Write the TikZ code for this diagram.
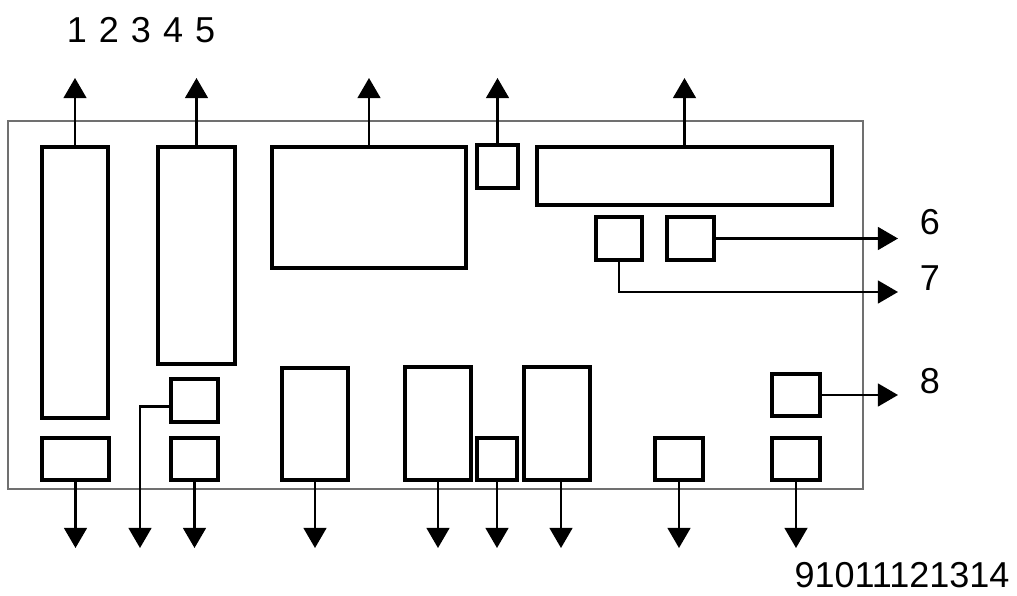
\documentclass[tikz,border=0pt]{standalone}
\usepackage{fontspec}
\setmainfont{Liberation Sans}
\usetikzlibrary{arrows.meta}
\definecolor{frame}{HTML}{707070}

\begin{document}
\begin{tikzpicture}[x=0.02cm,y=-0.02cm,
    blk/.style={draw,line width=1.8pt,inner sep=0pt},
    lead/.style={line width=1.4pt,-{Triangle[width=13pt,length=11.5pt]}},
    lbl/.style={font=\fontsize{20.5}{24}\selectfont}]
  \useasboundingbox (0,0) rectangle (1017,595);
  \draw[frame,line width=1.2pt] (8,121) rectangle (863,489);
  % blocks: name / centre x / centre y / width / height
  \foreach \name/\x/\y/\w/\h in {A/75/282.5/66/271, B/75.5/459/67/42, C/196.5/255.5/77/217,
      D/194.5/400.5/47/43, E/194.5/459/47/42, F/315/424/66/112, G/369/207.5/194/121,
      H/497.5/166.5/41/43, I/684.5/176/295/58, J/619/238.5/46/43, K/690.5/238.5/47/43,
      L/438/423.5/66/113, M/497/459/40/42, N/557/423.5/66/113, O/679/459/48/42,
      P/796/395/48/42, Q/796/459/48/42} {
    \node[blk,minimum width={\w*0.02cm},minimum height={\h*0.02cm}] (\name) at (\x,\y) {};
  }
  % free ends
  \foreach \name/\x/\y in {uA/75/78, uC/196.5/78, uG/369/78, uH/497.5/78, uI/684.5/78,
      dB/75.5/548, dD/140/548, dE/194.5/548, dF/315/548, dL/438/548, dM/497/548,
      dN/561/548, dO/679/548, dQ/796/548, rK/898/238.5, rJ/898/292, rP/898/395} {
    \coordinate (\name) at (\x,\y);
  }
  \foreach \a/\b in {A/uA, C/uC, G/uG, H/uH, I/uI}
    \draw[lead] (\a.north) -- (\b);
  \foreach \a/\b in {B/dB, E/dE, F/dF, L/dL, M/dM, O/dO, Q/dQ}
    \draw[lead] (\a.south) -- (\b);
  \draw[lead] (N.south -| dN) -- (dN);
  \draw[lead] ([yshift=-0.12cm]D.west) -| (dD);
  \draw[lead] (K.east) -- (rK);
  \draw[lead] (J.south) |- (rJ);
  \draw[lead] (P.east) -- (rP);
  % labels
  \node[lbl] (t15) at (141,30) {1\,\,2\,\,3\,\,4\,\,5};
  \node[lbl] (t6) at (930,222) {6};
  \node[lbl] (t7) at (930,278) {7};
  \node[lbl] (t8) at (930,381) {8};
  \node[lbl] (t914) at (902,575) {91011121314};
\end{tikzpicture}
\end{document}
